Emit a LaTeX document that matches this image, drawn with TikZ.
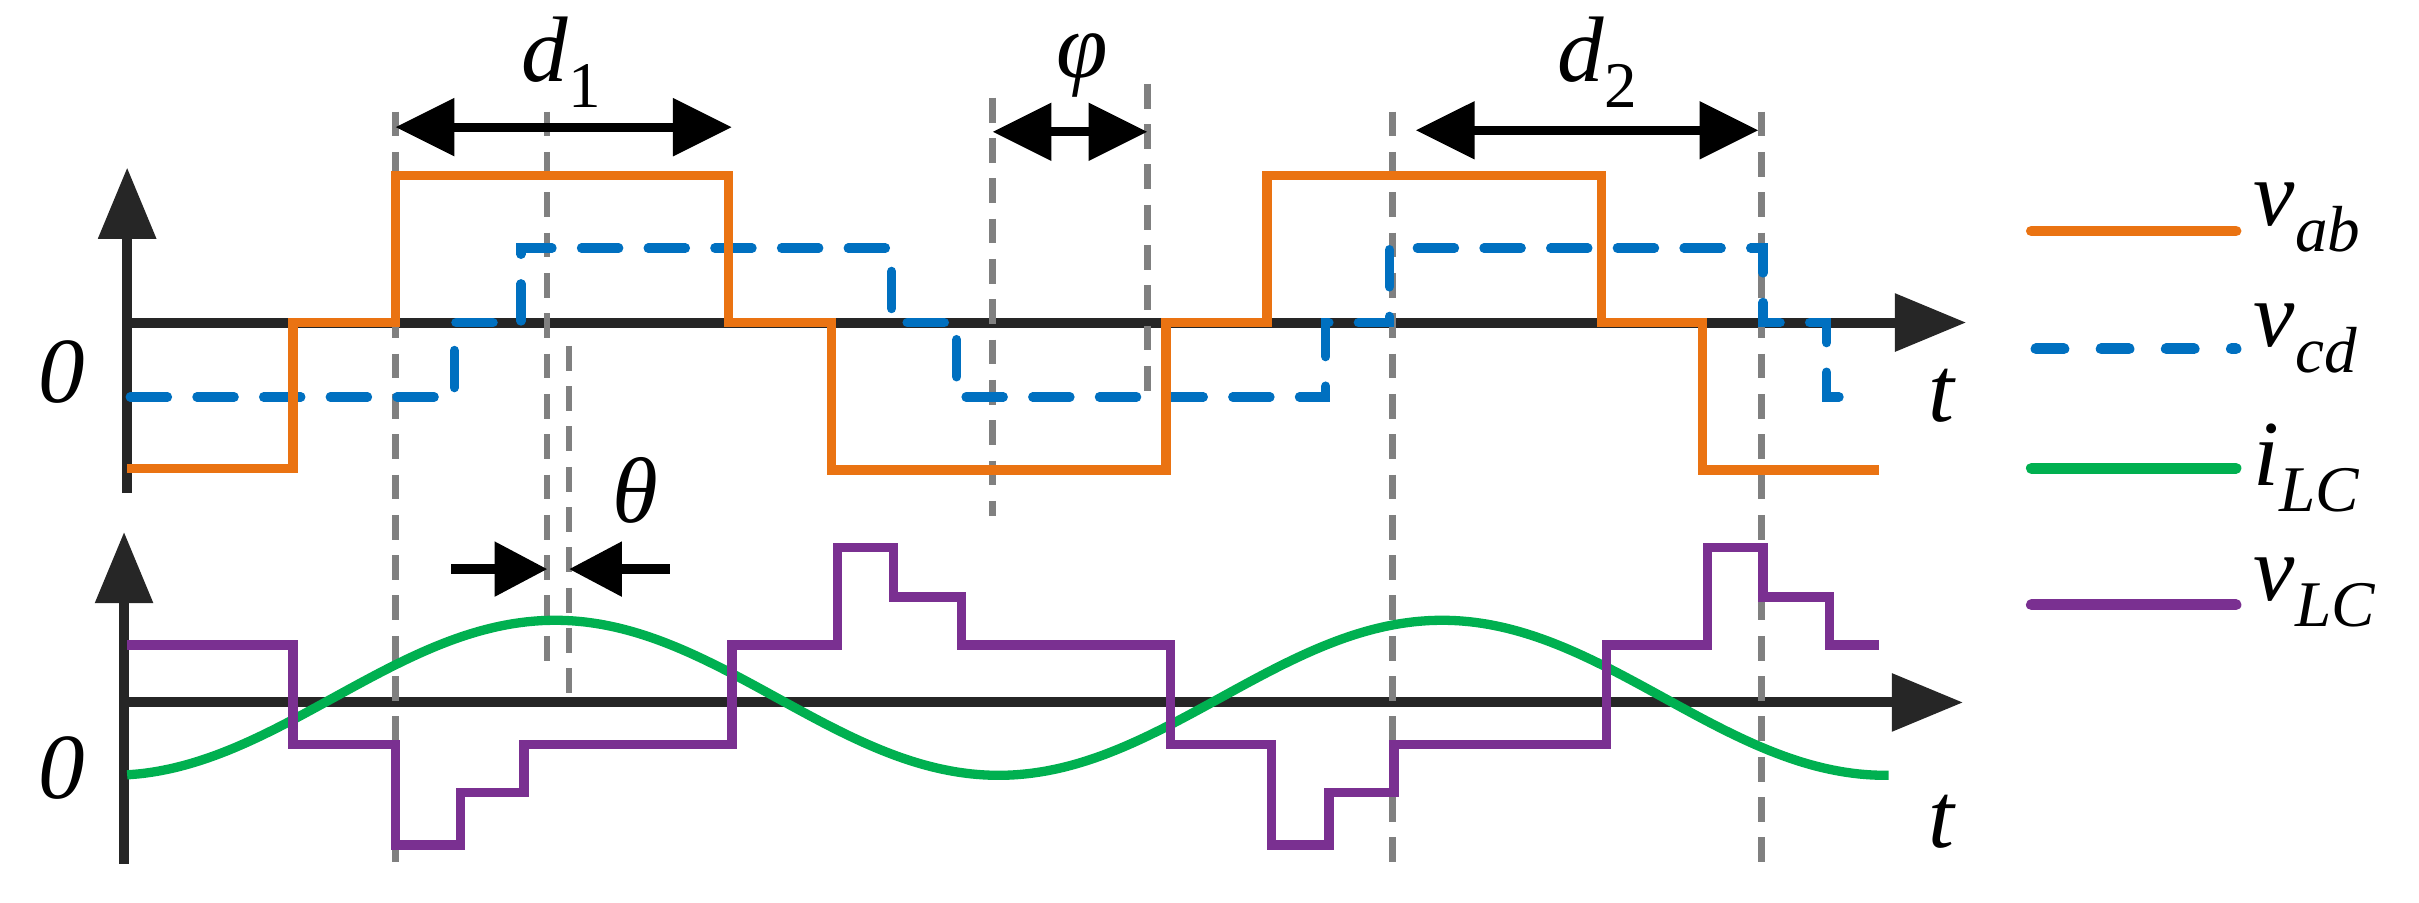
\documentclass[tikz,border=0pt]{standalone}
\usepackage{fontspec}
\setmainfont{Liberation Serif}
\usetikzlibrary{arrows.meta}
\definecolor{cor}{RGB}{234,115,18}
\definecolor{cbl}{RGB}{0,112,192}
\definecolor{cgr}{RGB}{0,176,80}
\definecolor{cpu}{RGB}{122,48,145}
\definecolor{cax}{RGB}{38,38,38}
\definecolor{cgy}{RGB}{128,128,128}
\newcommand{\lbl}[2]{\textit{#1}\raisebox{-0.28em}{\fontsize{42}{42}\selectfont\textit{#2}}}
\begin{document}
\begin{tikzpicture}[x=1pt,y=-1pt,
  ax/.style={cax,line width=6.5,-{Triangle[length=46pt,width=36pt]}},
  sig/.style={line width=6,line join=miter},
  dsh/.style={cgy,line width=4,dash pattern=on 16pt off 10pt},
  dim/.style={line width=6,{Triangle[length=38pt,width=36pt]}-{Triangle[length=38pt,width=36pt]}},
  big/.style={font=\fontsize{60}{60}\selectfont\itshape}]
\useasboundingbox (0,0) rectangle (1560,582);
% axes
\draw[ax] (82,318) -- (82,108);
\draw[ax] (82,208) -- (1268,208);
\draw[ax] (80,557) -- (80,343);
\draw[ax] (80,453) -- (1266,453);
\node[big] (z1) at (40,240) {0};
\node[big] (z2) at (40,495) {0};
\node[big] (t1) at (1252,255) {t};
\node[big] (t2) at (1252,530) {t};
% dashed verticals
\draw[dsh] (255,72) -- (255,557);
\draw[dsh] (353,72) -- (353,435);
\draw[dsh] (367,223) -- (367,453);
\draw[dsh] (640,63) -- (640,333);
\draw[dsh] (740,54) -- (740,262);
\draw[dsh] (898,72) -- (898,557);
\draw[dsh] (1136,72) -- (1136,557);
% v_cd
\draw[sig,cbl,dash pattern=on 24pt off 19pt,line cap=round] (84,256) -| (293,208) -| (336,160) -| (575,208) -| (617,256) -| (855,208) -| (896,160) -| (1137,208) -| (1178,256) -- (1190,256);
% v_ab
\draw[sig,cor] (82,302) -| (189,208) -| (255,113) -| (470,208) -| (536,303) -| (752,208) -| (817,113) -| (1033,208) -| (1098,303) -- (1212,303);
% i_LC
\draw[cgr,line width=6] plot[domain=82:1218,samples=120,smooth] (\x,{450-50*cos((\x-358)/572*360)});
% v_LC
\draw[sig,cpu] (82,416) -| (189,480) -| (255,545) -| (297,511) -| (338,480) -| (472,416) -| (540,353) -| (576,385) -| (620,416) -| (755,480) -| (820,545) -| (857,511) -| (899,480) -| (1036,416) -| (1101,353) -| (1137,385) -| (1180,416) -- (1212,416);
% dimension arrows
\coordinate (a1) at (255,82); \coordinate (b1) at (472,82);
\draw[dim] (a1) -- (b1);
\node[big] (d1) at (362,40) {\lbl{d}{\upshape 1}};
\coordinate (a2) at (640,85); \coordinate (b2) at (740,85);
\draw[dim] (a2) -- (b2);
\node[big] (ph) at (698,42) {φ};
\coordinate (a3) at (913,84); \coordinate (b3) at (1134,84);
\draw[dim] (a3) -- (b3);
\node[big] (d2) at (1030,40) {\lbl{d}{\upshape 2}};
\coordinate (c1) at (291,367); \coordinate (c2) at (353,367);
\coordinate (c3) at (432,367); \coordinate (c4) at (367,367);
\draw[line width=6,-{Triangle[length=34pt,width=34pt]}] (c1) -- (c2);
\draw[line width=6,-{Triangle[length=34pt,width=34pt]}] (c3) -- (c4);
\node[big] (th) at (410,316) {θ};
% legend
\draw[cor,line width=7,line cap=round] (1310,149) -- (1442,149);
\draw[cbl,line width=7,line cap=round,dash pattern=on 18pt off 24pt] (1313,225) -- (1442,225);
\draw[cgr,line width=7,line cap=round] (1310,302) -- (1442,302);
\draw[cpu,line width=7,line cap=round] (1310,390) -- (1442,390);
\node[big,anchor=west] (l1) at (1450,140) {\lbl{v}{ab}};
\node[big,anchor=west] (l2) at (1450,218) {\lbl{v}{cd}};
\node[big,anchor=west] (l3) at (1450,302) {\lbl{i}{LC}};
\node[big,anchor=west] (l4) at (1450,382) {\lbl{v}{LC}};
\end{tikzpicture}
\end{document}
